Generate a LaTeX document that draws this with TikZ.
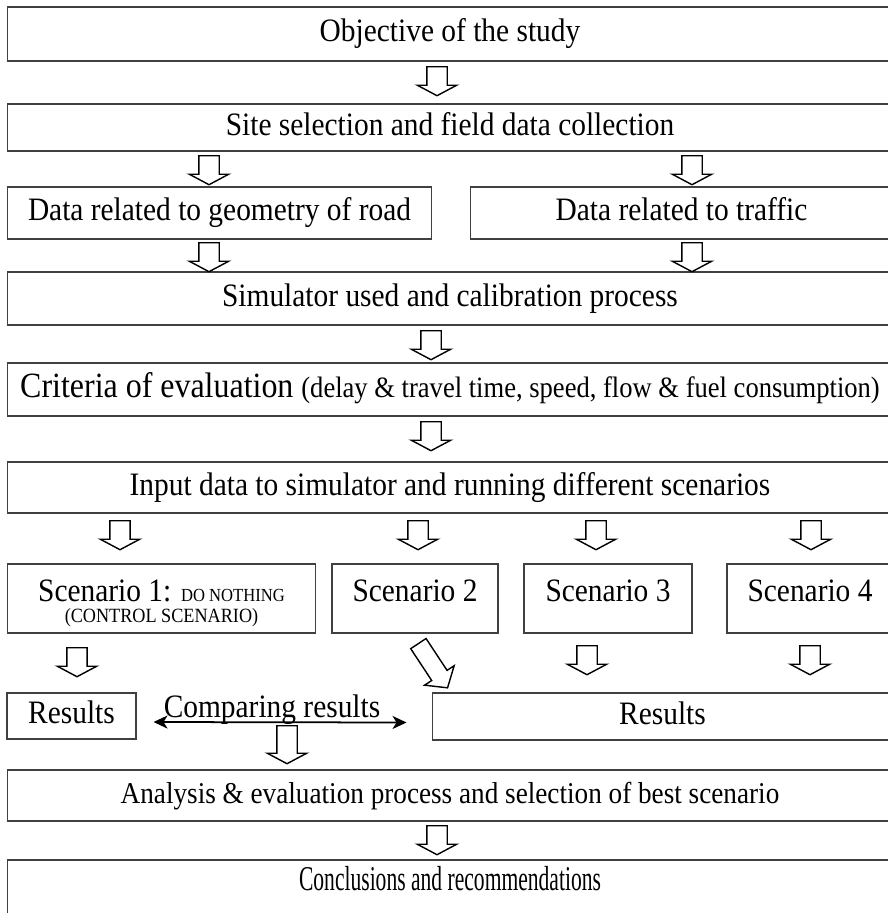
\documentclass[tikz,border=0pt]{standalone}
\usepackage{fontspec}
\setmainfont{Liberation Serif}[FakeStretch=0.9]
\newfontfamily\narrowfont{Liberation Serif}[FakeStretch=0.62]
\usetikzlibrary{shapes.arrows,arrows.meta}

\newcommand{\mainsz}{\fontsize{18.6}{22}\selectfont}
\newcommand{\critsz}{\fontsize{20.2}{24}\selectfont}
\newcommand{\parsz}{\fontsize{16.8}{20}\selectfont}
\newcommand{\anasz}{\fontsize{17.2}{21}\selectfont}
\newcommand{\concsz}{\fontsize{19.8}{23}\selectfont}
\newcommand{\capsz}{\fontsize{10.5}{12}\selectfont}
\newcommand{\notesz}{\fontsize{11.5}{13}\selectfont}

\tikzset{
	box/.style={draw=black!75, line width=0.6pt, rectangle, inner sep=0pt,
		font=\mainsz, text height=0.45cm, text depth=0.14cm},
	wide/.style={box, minimum width=17.72cm},
	scen/.style={box, minimum height=1.38cm, text depth=0.35cm},
	lbl/.style={inner sep=0pt, font=\mainsz, text height=0.45cm, text depth=0.14cm},
	blk/.style={single arrow, draw=black, line width=0.8pt, fill=white, rotate=-90,
		inner xsep=0pt, inner ysep=0.19cm, single arrow head extend=0.19cm,
		single arrow tip angle=124, minimum height=0.58cm, anchor=tail},
	dbl/.style={line width=1pt, {Stealth[length=0.28cm,width=0.26cm,inset=0.08cm]}-{Stealth[length=0.28cm,width=0.26cm,inset=0.08cm]}},
}

\begin{document}
\begin{tikzpicture}[x=0.02cm, y=-0.02cm]
	\useasboundingbox (0,0) rectangle (887,913);
	
	%%% boxes
	\node[wide, minimum height=1.08cm] (obj) at (450,34) {Objective of the study};
	\node[wide, minimum height=0.94cm] (site) at (450,127.5) {Site selection and field data collection};
	\node[box, minimum width=8.5cm, minimum height=1.04cm] (geo) at (219.5,213) {Data related to geometry of road};
	\node[box, minimum width=8.46cm, minimum height=1.04cm] (traf) at (681.5,213) {Data related to traffic};
	\node[wide, minimum height=1.06cm] (sim) at (450,298.5) {Simulator used and calibration process};
	\node[wide, minimum height=1.06cm, font=\critsz] (crit) at (450,389.5) {Criteria of evaluation {\parsz(delay \& travel time, speed, flow \& fuel consumption)}};
	\node[wide, minimum height=1.02cm] (inp) at (450,487.5) {Input data to simulator and running different scenarios};
	
	%%% scenarios
	\node[scen, minimum width=6.18cm] (s1) at (161.5,598.5) {Scenario 1: {\capsz DO NOTHING}};
	\node[inner sep=0pt, font=\notesz] (s1note) at (161.5,618) {(CONTROL SCENARIO)};
	\node[scen, minimum width=3.32cm] (s2) at (415,598.5) {Scenario 2};
	\node[scen, minimum width=3.36cm] (s3) at (608,598.5) {Scenario 3};
	\node[scen, minimum width=3.32cm] (s4) at (810,598.5) {Scenario 4};
	
	%%% results
	\node[box, minimum width=2.58cm, minimum height=0.92cm] (resL) at (71.5,716) {Results};
	\node[box, minimum width=9.22cm, minimum height=0.94cm] (resR) at (662.5,716.5) {Results};
	\node[lbl] (cmp) at (272,710) {Comparing results};
	\draw[dbl] ([xshift=0.34cm,yshift=-0.12cm]resL.east) -- ([xshift=-0.5cm,yshift=-0.12cm]resR.west);
	
	\node[wide, minimum height=1.02cm, font=\anasz] (ana) at (450,795.5) {Analysis \& evaluation process and selection of best scenario};
	\node[wide, minimum height=1.52cm, text depth=0.77cm, font=\narrowfont\concsz] (conc) at (450,898) {Conclusions and recommendations};
	
	%%% block arrows
	\node[blk] (a1) at (437,66) {};
	\node[blk] (a2) at (209,155) {};
	\node[blk] (a3) at (692,155) {};
	\node[blk] (a4) at (209,242) {};
	\node[blk] (a5) at (692,242) {};
	\node[blk] (a6) at (431,330) {};
	\node[blk] (a7) at (431,421) {};
	\node[blk] (a8) at (120,520) {};
	\node[blk] (a9) at (418,520) {};
	\node[blk] (a10) at (596,520) {};
	\node[blk] (a11) at (811,520) {};
	\node[blk] (a12) at (77,647) {};
	\node[blk, rotate=33.4, minimum height=1.06cm, inner ysep=0.17cm,
		single arrow head extend=0.17cm, single arrow tip angle=100] (a13) at (418,643) {};
	\node[blk] (a14) at (587,645) {};
	\node[blk] (a15) at (810,645) {};
	\node[blk, minimum height=0.76cm] (a16) at (287,725) {};
	\node[blk] (a17) at (437,825) {};
	
\end{tikzpicture}
\end{document}
